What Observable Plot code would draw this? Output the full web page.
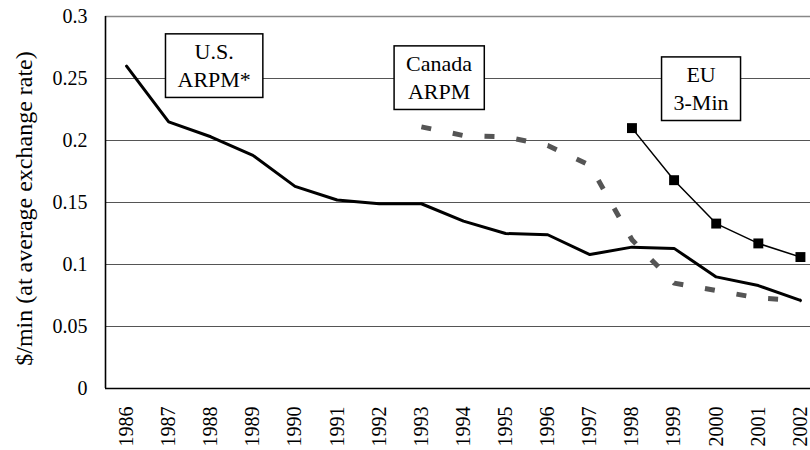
<!DOCTYPE html>
<html>
<head>
<meta charset="utf-8">
<script src="https://cdn.jsdelivr.net/npm/d3@7"></script>
<script src="https://cdn.jsdelivr.net/npm/@observablehq/plot@0.6"></script>
<style>
  html, body { margin: 0; padding: 0; background: #fff; overflow: hidden; }
  svg, svg text { font-family: "Liberation Serif", "Times New Roman", "DejaVu Serif", serif !important; }
</style>
</head>
<body>
<div id="chart"></div>
<script>
const years = [1986,1987,1988,1989,1990,1991,1992,1993,1994,1995,1996,1997,1998,1999,2000,2001,2002];
const usValues = [0.260,0.215,0.203,0.188,0.163,0.152,0.149,0.149,0.135,0.125,0.124,0.108,0.114,0.113,0.090,0.083,0.071];
const canadaYears = [1993,1994,1995,1996,1997,1998,1999,2000,2001,2002];
const canadaValues = [0.211,0.204,0.203,0.196,0.180,0.120,0.085,0.079,0.073,0.071];
const euYears = [1998,1999,2000,2001,2002];
const euValues = [0.210,0.168,0.133,0.117,0.106];
const yTicks = [0,0.05,0.1,0.15,0.2,0.25,0.3];
const yTitle = "$/min (at average exchange rate)";
const labelTexts = ["U.S.\nARPM*", "Canada\nARPM", "EU\n3-Min"];
const labelYears = [1988.08, 1993.42, 1999.64];
const labelValues = [0.2617, 0.252, 0.2431];

const us = years.map((y,i) => ({year: y, value: usValues[i]}));
const canada = canadaYears.map((y,i) => ({year: y, value: canadaValues[i]}));
const eu = euYears.map((y,i) => ({year: y, value: euValues[i]}));
const labels = labelTexts.map((t,i) => ({text: t, year: labelYears[i], value: labelValues[i]}));

const chart = Plot.plot({
  width: 810,
  height: 450,
  marginLeft: 105,
  marginRight: -11,
  marginTop: 16,
  marginBottom: 62,
  style: {fontFamily: "Liberation Serif", fontSize: "20px", color: "#000", background: "#fff"},
  x: {type: "linear", domain: [1985.5, 2002.5]},
  y: {domain: [0, 0.3]},
  marks: [
    Plot.ruleY(yTicks.filter(d => d > 0 && d < 0.3), {stroke: "#555", strokeWidth: 1.2}),
    Plot.ruleY([0.3], {stroke: "#888", strokeWidth: 1.4}),
    Plot.ruleY([0], {stroke: "#000", strokeWidth: 1.6}),
    Plot.ruleX([1985.5], {y1: 0, y2: 0.3, stroke: "#000", strokeWidth: 1.6}),
    Plot.axisY({ticks: yTicks, tickSize: 0, tickPadding: 18, tickFormat: d => String(+d.toFixed(2)), label: null, fontSize: 20}),
    Plot.axisX({ticks: years, tickSize: 0, tickPadding: 18, tickRotate: -90, tickFormat: d => String(d), label: null, fontSize: 20}),
    Plot.text([yTitle], {frameAnchor: "left", textAnchor: "middle", rotate: -90, dx: -81, dy: 6, fontSize: 24, fill: "#000"}),
    Plot.line(canada, {x: "year", y: "value", stroke: "#555", strokeWidth: 5, strokeDasharray: "10,22", strokeLinecap: "butt"}),
    Plot.line(us, {x: "year", y: "value", stroke: "#000", strokeWidth: 3}),
    Plot.line(eu, {x: "year", y: "value", stroke: "#000", strokeWidth: 1.5}),
    Plot.dot(eu, {x: "year", y: "value", symbol: "square", r: 5.6, fill: "#000", stroke: "none"}),
    Plot.text(labels, {x: "year", y: "value", text: "text", lineAnchor: "middle", lineHeight: 1.3, fontSize: 22, fill: "#000", className: "ann"})
  ]
});
document.getElementById("chart").appendChild(chart);

// draw boxes around annotation labels
d3.select(chart).selectAll("g.ann text").each(function() {
  const b = this.getBBox();
  const padX = 12, padY = 5;
  d3.select(this.parentNode).insert("rect", () => this)
    .attr("x", b.x - padX).attr("y", b.y - padY)
    .attr("width", b.width + 2*padX).attr("height", b.height + 2*padY)
    .attr("transform", this.getAttribute("transform"))
    .attr("fill", "#fff").attr("stroke", "#000").attr("stroke-width", 1.5);
});
</script>
</body>
</html>
